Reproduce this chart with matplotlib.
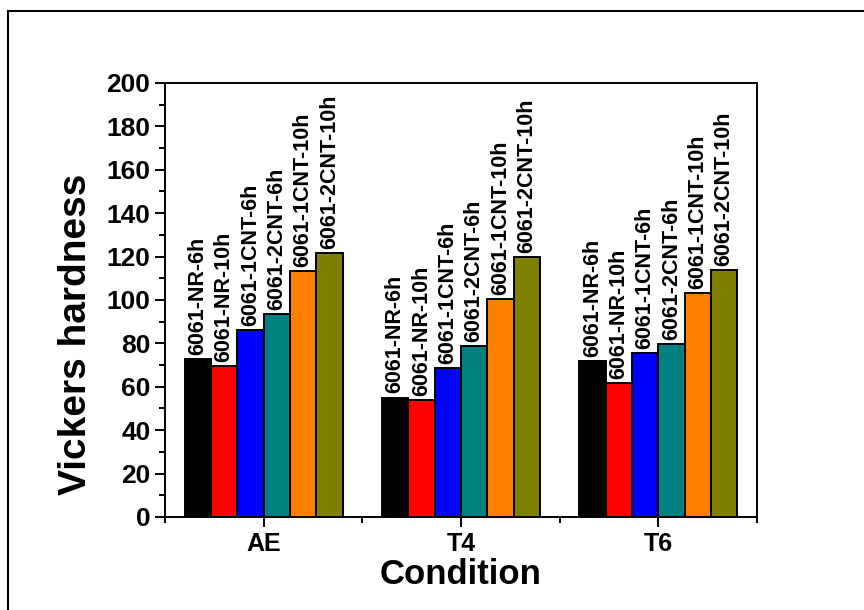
import matplotlib.pyplot as plt
from matplotlib.lines import Line2D
import numpy as np

# data
conditions = ['AE', 'T4', 'T6']
samples = ['6061-NR-6h', '6061-NR-10h', '6061-1CNT-6h', '6061-2CNT-6h',
           '6061-1CNT-10h', '6061-2CNT-10h']
nr_6h = [72.8, 55.0, 72.0]
nr_10h = [69.7, 53.9, 61.7]
cnt1_6h = [86.2, 68.8, 75.7]
cnt2_6h = [93.4, 78.9, 79.6]
cnt1_10h = [113.5, 100.3, 103.2]
cnt2_10h = [121.5, 119.8, 113.8]
colors = ['#000000', '#FF0000', '#0000FF', '#008080', '#FF8000', '#808000']

series = [nr_6h, nr_10h, cnt1_6h, cnt2_6h, cnt1_10h, cnt2_10h]

plt.rcParams['font.family'] = ['Liberation Sans', 'DejaVu Sans']
plt.rcParams['font.weight'] = 'bold'

fig = plt.figure(figsize=(8.64, 6.1), dpi=100)
ax = fig.add_axes([0.191, 0.1525, 0.685, 0.7115])

x = np.arange(1, len(conditions) + 1)
w = 0.8 / len(series)
for i, vals in enumerate(series):
    pos = x - 0.4 + w * (i + 0.5)
    ax.bar(pos, vals, width=w, color=colors[i], edgecolor='black', linewidth=1.4)
    for px, v in zip(pos, vals):
        ax.annotate(samples[i], (px, v), xytext=(0, 3), textcoords='offset points',
                    rotation=90, ha='center', va='bottom', fontsize=15.5, fontweight='bold')

ax.set_xlim(0.5, 3.5)
ax.set_ylim(0, 200)
ax.set_xticks(x)
ax.set_xticklabels(conditions)
ax.set_xticks([0.5, 1.5, 2.5, 3.5], minor=True)
ax.set_yticks(np.arange(0, 201, 20))
ax.set_yticks(np.arange(10, 200, 20), minor=True)
ax.tick_params(which='major', direction='out', length=7, width=1.4, labelsize=19)
ax.tick_params(axis='x', which='major', labelsize=18)
ax.tick_params(which='minor', direction='out', length=4, width=1.4)
for s in ax.spines.values():
    s.set_linewidth(1.4)

ax.set_xlabel('Condition', fontsize=25, fontweight='bold', labelpad=2)
ax.set_ylabel('Vickers hardness', fontsize=28, fontweight='bold', va='center')
ax.yaxis.set_label_coords(-0.15, 0.42)

# figure frame, only top and left edges are visible
fig.add_artist(Line2D([8 / 864, 8 / 864], [0, 1 - 11 / 610], color='black', lw=1.5))
fig.add_artist(Line2D([8 / 864, 1], [1 - 11 / 610, 1 - 11 / 610], color='black', lw=1.5))

fig.savefig('out.png', dpi=100)
